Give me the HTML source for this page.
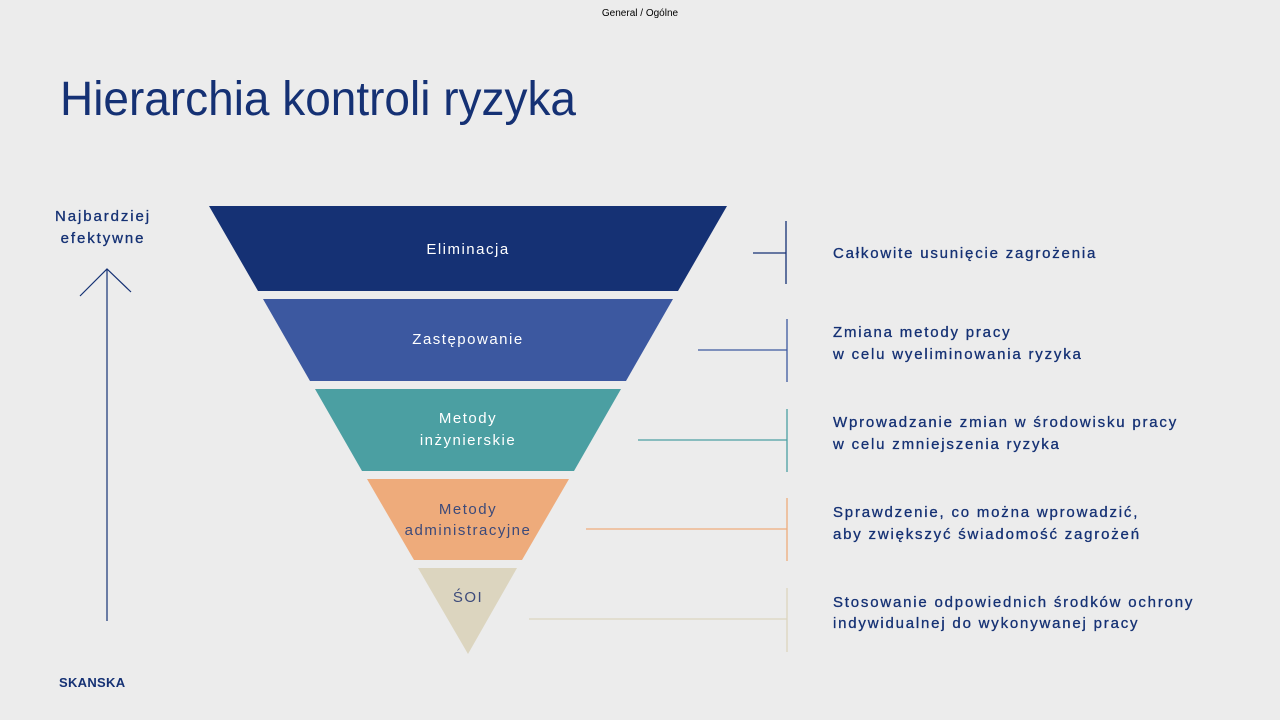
<!DOCTYPE html>
<html><head><meta charset="utf-8"><style>
html,body{margin:0;padding:0;background:#ececec;}
svg{display:block;}
text{font-family:"Liberation Sans",sans-serif;}
</style></head><body>
<svg width="1280" height="720" viewBox="0 0 1280 720" xmlns="http://www.w3.org/2000/svg">
<rect width="1280" height="720" fill="#ececec"/>
<text x="640" y="16" font-size="10" text-anchor="middle" fill="#000">General / Ogólne</text>
<text x="60" y="115" font-size="48" fill="#153174" textLength="516" lengthAdjust="spacingAndGlyphs">Hierarchia kontroli ryzyka</text>

<g font-size="15" fill="#153174" text-anchor="middle" letter-spacing="1.9" stroke="#153174" stroke-width="0.3">
<text x="103" y="221">Najbardziej</text>
<text x="103" y="243">efektywne</text>
</g>
<line x1="107" y1="269" x2="107" y2="621" stroke="#153174" stroke-width="1.2"/>
<polyline points="80,296 107,269 131,292" fill="none" stroke="#153174" stroke-width="1.2"/>

<polygon points="209,206 727,206 678,291 258,291" fill="#153174"/>
<polygon points="263,299 673,299 626,381 310,381" fill="#3c58a0"/>
<polygon points="315,389 621,389 574,471 362,471" fill="#4b9fa2"/>
<polygon points="367,479 569,479 522,560 414,560" fill="#eeab7b"/>
<polygon points="418,568 517,568 468,654" fill="#dcd5bf"/>

<g font-size="15" text-anchor="middle" letter-spacing="1.5">
<text x="468" y="254" fill="#fff">Eliminacja</text>
<text x="468" y="344" fill="#fff">Zastępowanie</text>
<text x="468" y="423" fill="#fff">Metody</text>
<text x="468" y="445" fill="#fff">inżynierskie</text>
<text x="468" y="514" fill="#3c4a7a">Metody</text>
<text x="468" y="535" fill="#3c4a7a">administracyjne</text>
<text x="468" y="602" fill="#3c4a7a">ŚOI</text>
</g>

<g stroke-width="1.3">
<line x1="753" y1="253" x2="786" y2="253" stroke="#153174"/>
<line x1="786" y1="221" x2="786" y2="284" stroke="#153174"/>
<line x1="698" y1="350" x2="787" y2="350" stroke="#3c58a0"/>
<line x1="787" y1="319" x2="787" y2="382" stroke="#3c58a0"/>
<line x1="638" y1="440" x2="787" y2="440" stroke="#4b9fa2"/>
<line x1="787" y1="409" x2="787" y2="472" stroke="#4b9fa2"/>
<line x1="586" y1="529" x2="787" y2="529" stroke="#eeab7b"/>
<line x1="787" y1="498" x2="787" y2="561" stroke="#eeab7b"/>
<line x1="529" y1="619" x2="787" y2="619" stroke="#dcd5bf"/>
<line x1="787" y1="588" x2="787" y2="652" stroke="#dcd5bf"/>
</g>

<g font-size="15" fill="#153174" letter-spacing="1.8" stroke="#153174" stroke-width="0.3">
<text x="833" y="258">Całkowite usunięcie zagrożenia</text>
<text x="833" y="337">Zmiana metody pracy</text>
<text x="833" y="359">w celu wyeliminowania ryzyka</text>
<text x="833" y="427">Wprowadzanie zmian w środowisku pracy</text>
<text x="833" y="449">w celu zmniejszenia ryzyka</text>
<text x="833" y="517">Sprawdzenie, co można wprowadzić,</text>
<text x="833" y="539">aby zwiększyć świadomość zagrożeń</text>
<text x="833" y="607">Stosowanie odpowiednich środków ochrony</text>
<text x="833" y="628">indywidualnej do wykonywanej pracy</text>
</g>

<text x="59" y="687" font-size="13" font-weight="bold" fill="#153174" letter-spacing="0.3">SKANSKA</text>
</svg>
</body></html>
